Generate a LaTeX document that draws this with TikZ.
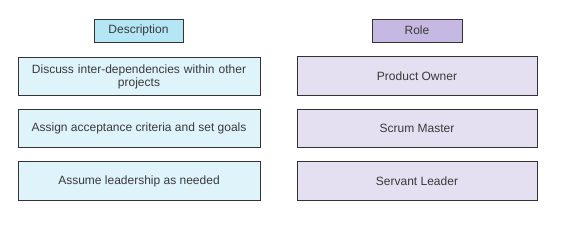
\documentclass[tikz,border=0pt]{standalone}
\usepackage{fontspec}
\setmainfont{Liberation Sans}
\usepackage{xcolor}
\usepackage{tikz}
\definecolor{descblue}{HTML}{B5E6F5}
\definecolor{desclight}{HTML}{DFF3FA}
\definecolor{rolepurple}{HTML}{C5B8E2}
\definecolor{rolelight}{HTML}{E4DFF1}
\definecolor{edgegray}{HTML}{333333}
\definecolor{textgray}{HTML}{3A3A3A}

\begin{document}
\begin{tikzpicture}[x=1pt,y=-1pt,
    head/.style={draw=edgegray, line width=0.9pt, minimum width=89pt, minimum height=23pt,
                 inner sep=0pt, font=\fontsize{12}{13}\selectfont, text=textgray},
    item/.style={draw=edgegray, line width=0.9pt, minimum width=242pt, minimum height=38.5pt,
                 inner sep=2pt, align=center, font=\fontsize{12}{13}\selectfont, text=textgray}]

  \path[use as bounding box] (0,0) rectangle (563,227);

  % ---- left column: descriptions ----
  \node[head, fill=descblue] (desc) at (138.5,30.5) {Description};
  \node[item, fill=desclight, text width=236pt] (discuss) at (139,76.5)
    {Discuss inter-dependencies within other\\projects};
  \node[item, fill=desclight] (assign) at (139,128.5) {Assign acceptance criteria and set goals};
  \node[item, fill=desclight] (assume) at (139,181) {Assume leadership as needed};

  % ---- right column: roles ----
  \node[head, fill=rolepurple, minimum width=90pt] (role) at (417,30.5) {Role};
  \node[item, fill=rolelight, minimum width=240pt] (owner) at (417,76) {Product Owner};
  \node[item, fill=rolelight, minimum width=240pt] (master) at (417,128.5) {Scrum Master};
  \node[item, fill=rolelight, minimum width=240pt] (servant) at (417,181) {Servant Leader};
\end{tikzpicture}
\end{document}
